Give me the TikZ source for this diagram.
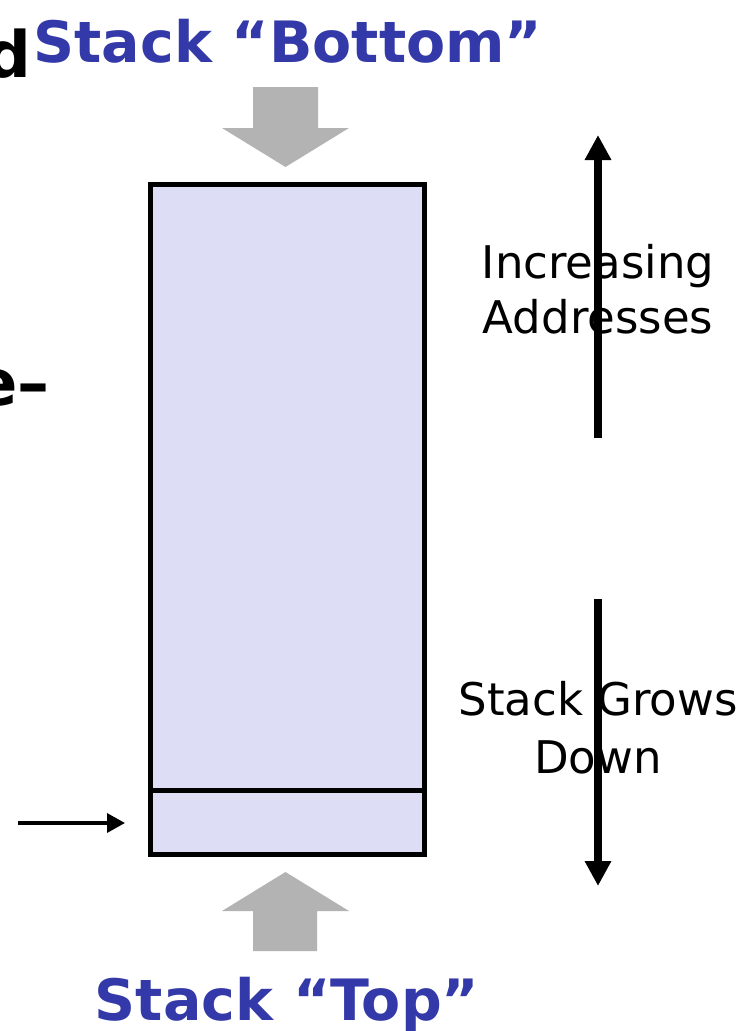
\documentclass[tikz,border=0pt]{standalone}
\usepackage{fontspec}
\setsansfont{DejaVu Sans}
\usepackage{tikz}
\usetikzlibrary{arrows.meta,positioning}
\definecolor{stackblue}{RGB}{51,57,168}
\definecolor{stackfill}{RGB}{221,221,245}
\definecolor{pushgray}{RGB}{179,179,179}

\begin{document}
\begin{tikzpicture}[x=1pt,y=-1pt,
    title/.style={font=\sffamily\bfseries\fontsize{57}{68}\selectfont, text=stackblue, inner sep=0pt, anchor=base},
    side/.style={font=\sffamily\fontsize{45}{55}\selectfont, inner sep=0pt, anchor=base},
    cut/.style={font=\sffamily\bfseries\fontsize{64}{72}\selectfont, inner sep=0pt, anchor=base east},
    growarrow/.style={line width=8pt, -{Triangle[length=25pt,width=25pt]}},
    ptrarrow/.style={line width=3.5pt, -{Triangle[length=18pt,width=19pt]}}]
        \useasboundingbox (0,0) rectangle (751,1031);
        \def\xl{150.5}
        \def\xr{424.5}
        \def\yt{184.5}
        \def\ym{790.5}
        \def\yb{854.5}
        % Draw the stack frame
        \filldraw[fill=stackfill, draw=black, line width=5pt] (\xl,\yt) rectangle (\xr,\yb);
        \draw[line width=5pt] (\xl,\ym) -- (\xr,\ym);
        % grey block arrows
        \fill[pushgray] (253,87) -- (318,87) -- (318,128) -- (349,128) -- (285.5,167) -- (222,128) -- (253,128) -- cycle;
        \fill[pushgray] (253,951) -- (317,951) -- (317,911) -- (349,911) -- (285.5,872) -- (222,911) -- (253,911) -- cycle;
        % titles
        \node[title] (bottom) at (288,62) {Stack “Bottom”};
        \node[title] (top) at (287,1020) {Stack “Top”};
        % text running in from the left
        \node[cut] (headd) at (32,77) {d};
        \node[cut] (heade) at (50,405) {e–};
        % side labels
        \node[side] (incr) at (598,278) {Increasing};
        \node[side] (addr) at (598,333) {Addresses};
        \node[side] (grows) at (598,715) {Stack Grows};
        \node[side] (down) at (598,773) {Down};
        % arrows
        \coordinate (incbot) at (598,438);
        \coordinate (inctop) at (598,135);
        \coordinate (grtop) at (598,599);
        \coordinate (grbot) at (598,886);
        \coordinate (ptrtail) at (18,823);
        \coordinate (ptrtip) at (125,823);
        \draw[growarrow] (incbot) -- (inctop);
        \draw[growarrow] (grtop) -- (grbot);
        \draw[ptrarrow] (ptrtail) -- (ptrtip);
\end{tikzpicture}
\end{document}
